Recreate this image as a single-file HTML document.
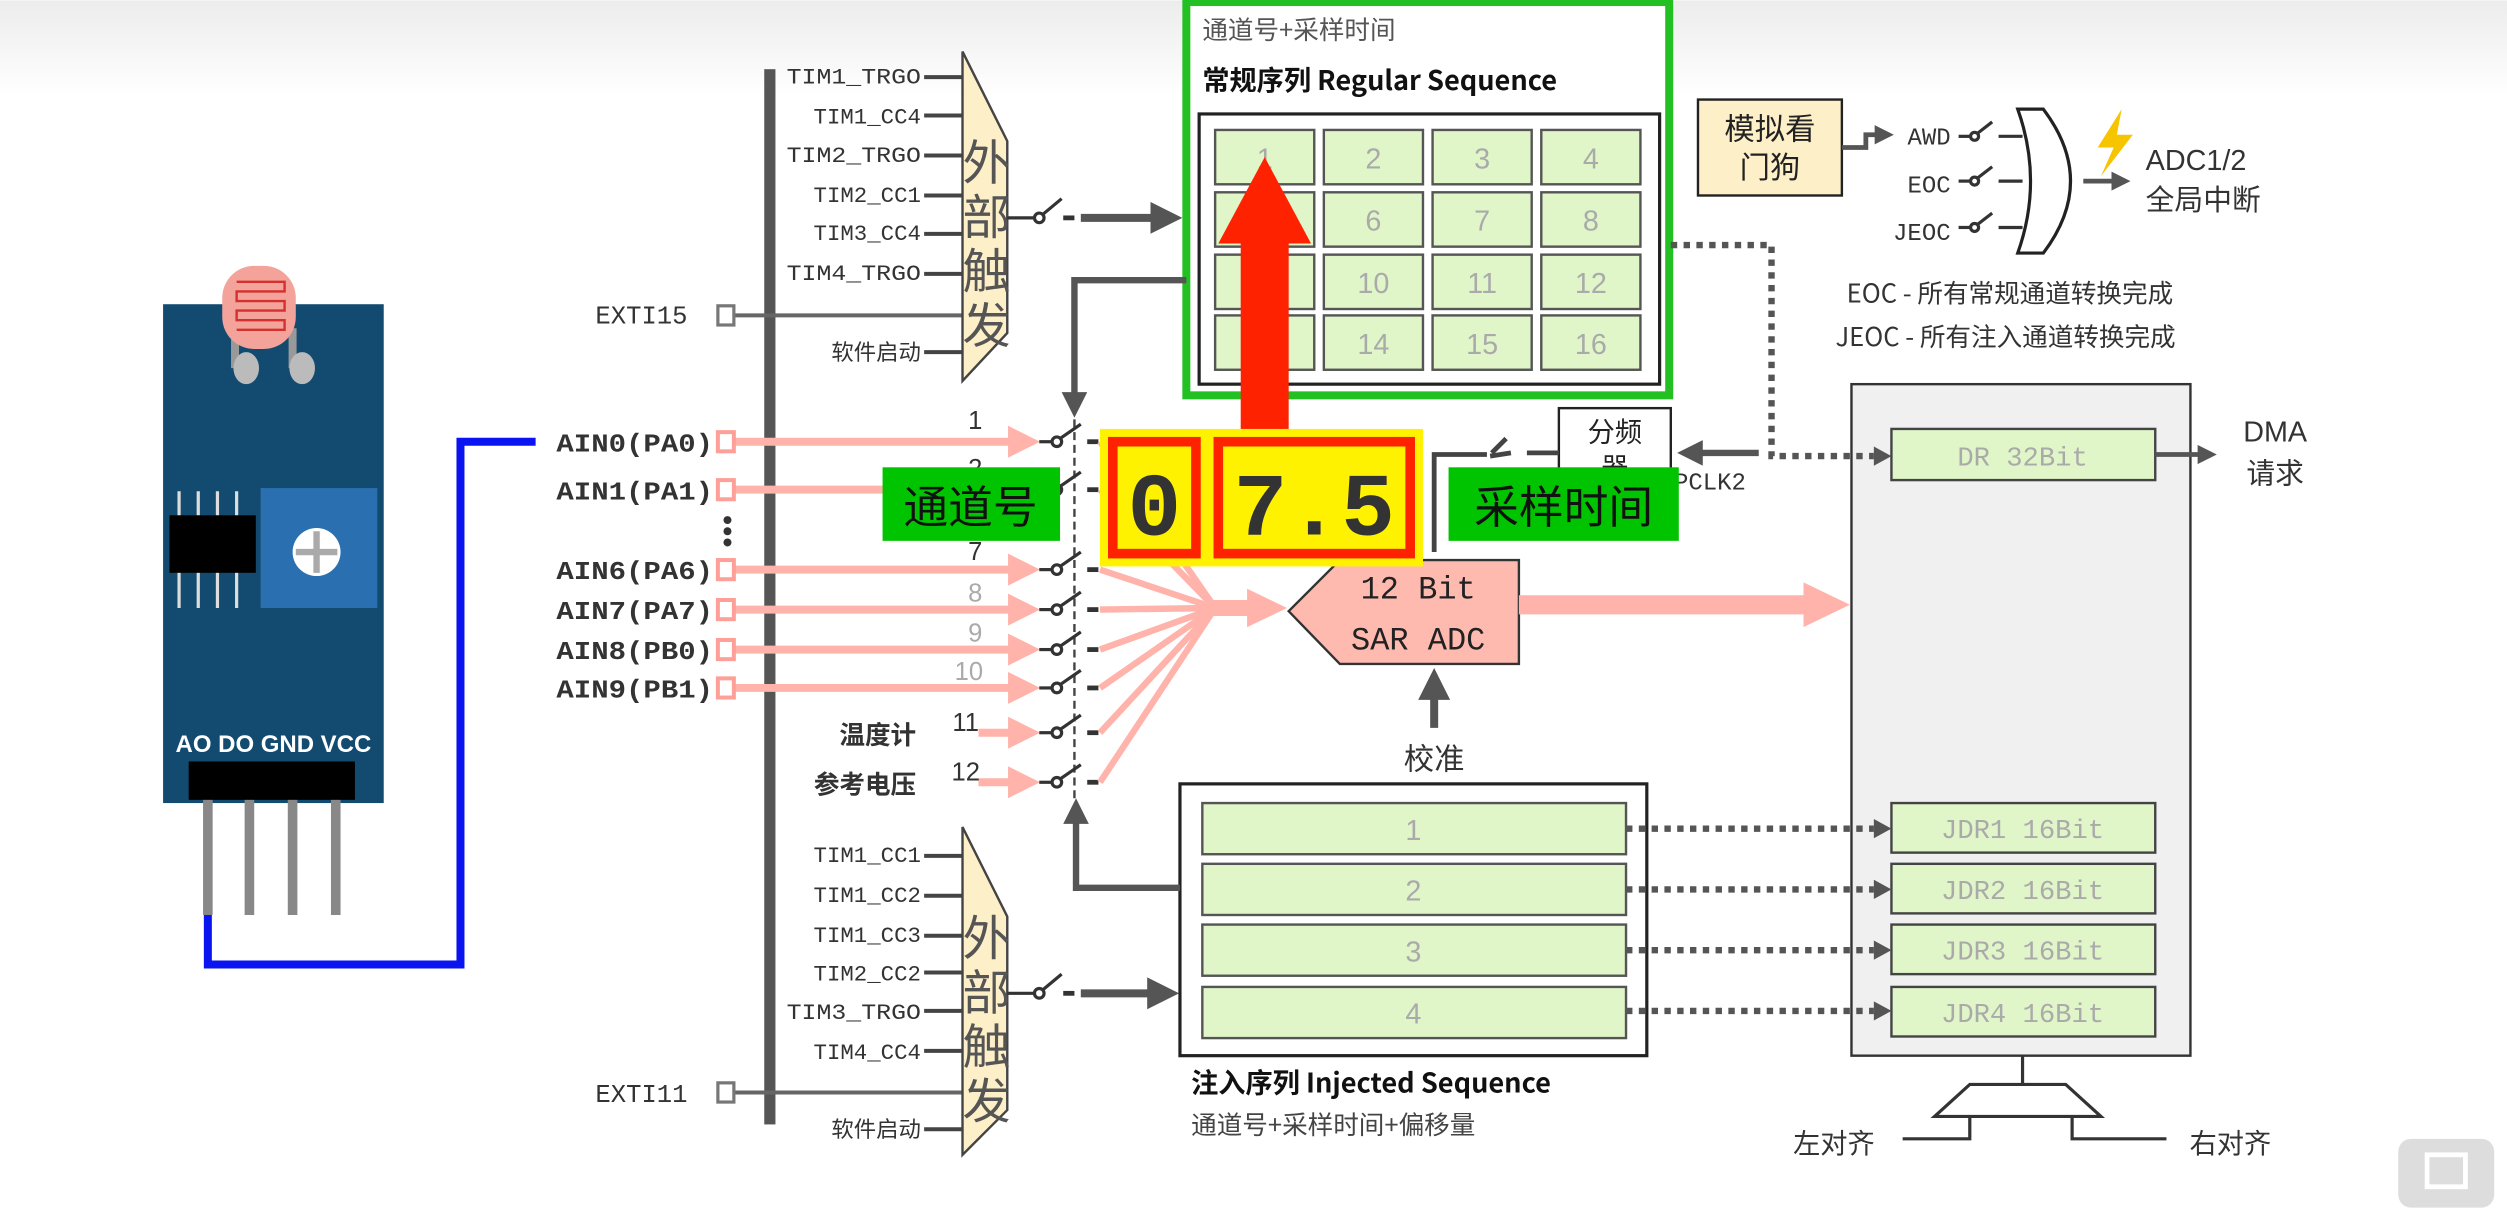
<!DOCTYPE html>
<html><head><meta charset="utf-8">
<style>
html,body{margin:0;padding:0;background:#fff;}
svg{display:block;}
text{font-family:"Liberation Sans","Noto Sans CJK SC",sans-serif;}
.m text, text.m{font-family:"Liberation Mono","DejaVu Sans Mono","Noto Sans CJK SC",monospace;}
.c text, text.c{font-family:"Noto Sans CJK SC","WenQuanYi Zen Hei",sans-serif;}
</style></head><body>
<svg width="2507" height="1208" viewBox="0 0 1568 755" xmlns="http://www.w3.org/2000/svg">
<defs>
<linearGradient id="bg" x1="0" y1="0" x2="0" y2="1"><stop offset="0" stop-color="#ececec"/><stop offset="1" stop-color="#ffffff"/></linearGradient>
<marker id="ag" markerWidth="4" markerHeight="4" refX="2.5" refY="2" orient="auto"><path d="M0,0 L4,2 L0,4z" fill="#555"/></marker>
<marker id="ap" markerWidth="4" markerHeight="4" refX="2.5" refY="2" orient="auto"><path d="M0,0 L4,2 L0,4z" fill="#ffb3aa"/></marker>
<g id="sw" stroke="#333" stroke-width="2" fill="#fff"><line x1="650" y1="0" x2="658" y2="0"/><circle cx="661" cy="0" r="3"/><line x1="663" y1="-2" x2="676" y2="-11"/><line x1="680" y1="0" x2="687" y2="0" stroke-width="3"/></g>
<g id="sw2" stroke="#333" stroke-width="2" fill="#fff"><line x1="1225" y1="0" x2="1232" y2="0"/><circle cx="1235" cy="0" r="2.5"/><line x1="1237" y1="-2" x2="1246" y2="-9"/><line x1="1250" y1="0" x2="1265" y2="0"/></g>
</defs>
<rect width="1568" height="60" fill="url(#bg)"/>

<!-- sensor board -->
<rect x="102" y="190" width="138" height="312" fill="#134b70"/>
<line x1="147" y1="205" x2="147" y2="230" stroke="#999" stroke-width="5"/>
<line x1="183" y1="205" x2="183" y2="230" stroke="#999" stroke-width="5"/>
<ellipse cx="154" cy="230" rx="8" ry="10" fill="#bbb"/><ellipse cx="189" cy="230" rx="8" ry="10" fill="#bbb"/>
<rect x="139" y="166" width="46" height="52" rx="20" fill="#f4a39a"/>
<path d="M148,176 H178 V182 H148 V188 H178 V194 H148 V200 H178 V206 H148" fill="none" stroke="#d43030" stroke-width="1.5"/>
<rect x="163" y="305" width="73" height="75" fill="#2a6fb0"/>
<circle cx="198" cy="345" r="15" fill="#fff"/>
<line x1="198" y1="332" x2="198" y2="358" stroke="#aaa" stroke-width="4"/><line x1="185" y1="345" x2="211" y2="345" stroke="#aaa" stroke-width="4"/>
<g stroke="#ddd" stroke-width="2"><line x1="112" y1="307" x2="112" y2="380"/><line x1="124" y1="307" x2="124" y2="380"/><line x1="136" y1="307" x2="136" y2="380"/><line x1="148" y1="307" x2="148" y2="380"/></g>
<rect x="106" y="322" width="54" height="36" fill="#000"/>
<text x="171" y="470" fill="#fff" font-size="15" font-weight="bold" text-anchor="middle">AO DO GND VCC</text>
<rect x="118" y="476" width="104" height="24" fill="#000"/>
<g stroke="#888" stroke-width="6"><line x1="130" y1="500" x2="130" y2="572"/><line x1="156" y1="500" x2="156" y2="572"/><line x1="183" y1="500" x2="183" y2="572"/><line x1="210" y1="500" x2="210" y2="572"/></g>
<path d="M335,276 H288 V603 H130 V572" fill="none" stroke="#0a14f0" stroke-width="5"/>

<!-- bus -->
<rect x="478" y="43" width="7" height="660" fill="#555"/>

<!-- top triggers -->
<g class="m" font-size="14" fill="#333" text-anchor="end">
<text x="576" y="52" textLength="84" lengthAdjust="spacingAndGlyphs">TIM1_TRGO</text><text x="576" y="77">TIM1_CC4</text><text x="576" y="101" textLength="84" lengthAdjust="spacingAndGlyphs">TIM2_TRGO</text><text x="576" y="126">TIM2_CC1</text><text x="576" y="150">TIM3_CC4</text><text x="576" y="175" textLength="84" lengthAdjust="spacingAndGlyphs">TIM4_TRGO</text>
<text x="430" y="202" font-size="16">EXTI15</text>
</g>
<text x="576" y="225" class="c" font-size="14" fill="#333" text-anchor="end">软件启动</text>
<g stroke="#444" stroke-width="2.5"><line x1="578" y1="48" x2="602" y2="48"/><line x1="578" y1="72" x2="602" y2="72"/><line x1="578" y1="97" x2="602" y2="97"/><line x1="578" y1="122" x2="602" y2="122"/><line x1="578" y1="146" x2="602" y2="146"/><line x1="578" y1="171" x2="602" y2="171"/><line x1="578" y1="220" x2="602" y2="220"/></g>
<line x1="459" y1="197" x2="602" y2="197" stroke="#666" stroke-width="2.5"/>
<rect x="449" y="191" width="10" height="12" fill="#fff" stroke="#777" stroke-width="2"/>
<polygon points="602,32 630,88 630,208 602,238" fill="#fdefc8" stroke="#444" stroke-width="1.5"/>
<g class="c" font-size="30" fill="#555" text-anchor="middle"><text x="617" y="112">外</text><text x="617" y="146">部</text><text x="617" y="180">触</text><text x="617" y="214">发</text></g>
<g stroke="#333" stroke-width="2" fill="#fff"><line x1="630" y1="136" x2="647" y2="136"/><circle cx="650" cy="136" r="3"/><line x1="652" y1="134" x2="664" y2="124"/><line x1="665" y1="136" x2="672" y2="136" stroke-width="3"/></g>
<line x1="676" y1="136" x2="732" y2="136" stroke="#555" stroke-width="5" marker-end="url(#ag)"/>

<!-- regular sequence -->
<rect x="742" y="1" width="302" height="246" fill="#fff" stroke="#22c022" stroke-width="5"/>
<text x="752" y="24" class="c" font-size="16" fill="#555">通道号+采样时间</text>
<text x="752" y="56" class="c" font-size="17" font-weight="bold" fill="#111">常规序列 Regular Sequence</text>
<rect x="750" y="71" width="288" height="169" fill="#fff" stroke="#222" stroke-width="2"/>
<g fill="#e0f5c8" stroke="#555" stroke-width="1.5">
<rect x="760" y="81" width="62" height="34"/><rect x="828" y="81" width="62" height="34"/><rect x="896" y="81" width="62" height="34"/><rect x="964" y="81" width="62" height="34"/>
<rect x="760" y="120" width="62" height="34"/><rect x="828" y="120" width="62" height="34"/><rect x="896" y="120" width="62" height="34"/><rect x="964" y="120" width="62" height="34"/>
<rect x="760" y="159" width="62" height="34"/><rect x="828" y="159" width="62" height="34"/><rect x="896" y="159" width="62" height="34"/><rect x="964" y="159" width="62" height="34"/>
<rect x="760" y="197" width="62" height="34"/><rect x="828" y="197" width="62" height="34"/><rect x="896" y="197" width="62" height="34"/><rect x="964" y="197" width="62" height="34"/>
</g>
<g font-size="18" fill="#aaa" text-anchor="middle">
<text x="791" y="105">1</text><text x="859" y="105">2</text><text x="927" y="105">3</text><text x="995" y="105">4</text>
<text x="791" y="144">5</text><text x="859" y="144">6</text><text x="927" y="144">7</text><text x="995" y="144">8</text>
<text x="791" y="183">9</text><text x="859" y="183">10</text><text x="927" y="183">11</text><text x="995" y="183">12</text>
<text x="791" y="221">13</text><text x="859" y="221">14</text><text x="927" y="221">15</text><text x="995" y="221">16</text>
</g>
<path d="M742,175 H672 V255" fill="none" stroke="#555" stroke-width="4" marker-end="url(#ag)"/>

<!-- analog inputs -->
<g class="m" font-size="16" font-weight="bold" fill="#333" text-anchor="end">
<text x="446" y="282" textLength="98" lengthAdjust="spacingAndGlyphs">AIN0(PA0)</text><text x="446" y="312" textLength="98" lengthAdjust="spacingAndGlyphs">AIN1(PA1)</text><text x="446" y="362" textLength="98" lengthAdjust="spacingAndGlyphs">AIN6(PA6)</text><text x="446" y="387" textLength="98" lengthAdjust="spacingAndGlyphs">AIN7(PA7)</text><text x="446" y="412" textLength="98" lengthAdjust="spacingAndGlyphs">AIN8(PB0)</text><text x="446" y="436" textLength="98" lengthAdjust="spacingAndGlyphs">AIN9(PB1)</text>
</g>
<g fill="#333"><circle cx="455" cy="325" r="2.5"/><circle cx="455" cy="332" r="2.5"/><circle cx="455" cy="339" r="2.5"/></g>
<g class="c" font-size="16" font-weight="bold" fill="#333" text-anchor="end"><text x="573" y="465">温度计</text><text x="573" y="496">参考电压</text></g>
<g stroke="#ffb3aa" stroke-width="5">
<line x1="458" y1="276" x2="643" y2="276" marker-end="url(#ap)"/><line x1="458" y1="306" x2="643" y2="306" marker-end="url(#ap)"/><line x1="458" y1="356" x2="643" y2="356" marker-end="url(#ap)"/><line x1="458" y1="381" x2="643" y2="381" marker-end="url(#ap)"/><line x1="458" y1="406" x2="643" y2="406" marker-end="url(#ap)"/><line x1="458" y1="430" x2="643" y2="430" marker-end="url(#ap)"/><line x1="612" y1="458" x2="643" y2="458" marker-end="url(#ap)"/><line x1="612" y1="489" x2="643" y2="489" marker-end="url(#ap)"/>
</g>
<g fill="#fff" stroke="#ffa098" stroke-width="2.5">
<rect x="449" y="270" width="10" height="12"/><rect x="449" y="300" width="10" height="12"/><rect x="449" y="350" width="10" height="12"/><rect x="449" y="375" width="10" height="12"/><rect x="449" y="400" width="10" height="12"/><rect x="449" y="424" width="10" height="12"/>
</g>
<g font-size="16" text-anchor="middle" fill="#333"><text x="610" y="268">1</text><text x="610" y="298">2</text><text x="610" y="350">7</text><text x="610" y="376" fill="#aaa">8</text><text x="610" y="401" fill="#aaa">9</text><text x="606" y="425" fill="#aaa">10</text><text x="604" y="457">11</text><text x="604" y="488">12</text></g>
<line x1="672" y1="262" x2="672" y2="500" stroke="#444" stroke-width="1.5" stroke-dasharray="5,3"/>
<use href="#sw" y="276"/><use href="#sw" y="306"/><use href="#sw" y="356"/><use href="#sw" y="381"/><use href="#sw" y="406"/><use href="#sw" y="430"/><use href="#sw" y="458"/><use href="#sw" y="489"/>
<g stroke="#ffb3aa" stroke-width="4" fill="none">
<line x1="688" y1="276" x2="760" y2="380"/><line x1="688" y1="306" x2="760" y2="380"/><line x1="688" y1="356" x2="760" y2="380"/><line x1="688" y1="381" x2="760" y2="380"/><line x1="688" y1="406" x2="760" y2="380"/><line x1="688" y1="430" x2="760" y2="380"/><line x1="688" y1="458" x2="760" y2="380"/><line x1="688" y1="489" x2="760" y2="380"/>
</g>
<line x1="755" y1="380" x2="782" y2="380" stroke="#ffb3aa" stroke-width="10"/>
<polygon points="780,368 805,380 780,392" fill="#ffb3aa"/>

<!-- ADC -->
<polygon points="806,382 838,350 950,350 950,415 838,415" fill="#ffbab0" stroke="#333" stroke-width="1.5"/>
<text x="887" y="374" class="m" font-size="20" fill="#222" text-anchor="middle">12 Bit</text>
<text x="887" y="406" class="m" font-size="20" fill="#222" text-anchor="middle">SAR ADC</text>
<line x1="950" y1="378" x2="1130" y2="378" stroke="#ffb3aa" stroke-width="12"/>
<polygon points="1128,364 1157,378 1128,392" fill="#ffb3aa"/>
<line x1="897" y1="455" x2="897" y2="425" stroke="#555" stroke-width="5" marker-end="url(#ag)"/>
<text x="897" y="481" class="c" font-size="19" fill="#333" text-anchor="middle">校准</text>

<!-- prescaler -->
<rect x="975" y="255" width="70" height="46" fill="#fff" stroke="#222" stroke-width="1.5"/>
<text x="1010" y="276" class="c" font-size="17" fill="#222" text-anchor="middle">分频</text>
<text x="1010" y="298" class="c" font-size="17" fill="#222" text-anchor="middle">器</text>
<text x="1047" y="306" class="m" font-size="15" fill="#333">PCLK2</text>
<line x1="1100" y1="283" x2="1055" y2="283" stroke="#555" stroke-width="4" marker-end="url(#ag)"/>
<g stroke="#444" stroke-width="3" fill="none"><line x1="975" y1="283" x2="955" y2="283"/><line x1="945" y1="283" x2="932" y2="285"/><line x1="933" y1="283" x2="942" y2="274"/><path d="M930,284 H897 V345"/></g>

<!-- red arrow -->
<rect x="776" y="140" width="30" height="130" fill="#ff2200"/>
<polygon points="762,152 791,98 820,152" fill="#ff2200"/>

<!-- overlays -->
<rect x="688" y="268" width="202" height="86" fill="#fff200"/>
<rect x="696" y="276" width="52" height="70" fill="#fff200" stroke="#ff2200" stroke-width="6"/>
<rect x="762" y="276" width="120" height="70" fill="#fff200" stroke="#ff2200" stroke-width="6"/>
<text x="722" y="334" class="m" font-size="56" font-weight="bold" fill="#333" text-anchor="middle">0</text>
<text x="822" y="334" class="m" font-size="56" font-weight="bold" fill="#333" text-anchor="middle">7.5</text>
<rect x="552" y="292" width="111" height="46" fill="#00c400"/>
<text x="607" y="327" class="c" font-size="28" fill="#111" text-anchor="middle">通道号</text>
<rect x="906" y="292" width="144" height="46" fill="#00c400"/>
<text x="978" y="327" class="c" font-size="28" fill="#111" text-anchor="middle">采样时间</text>

<!-- bottom triggers -->
<g class="m" font-size="14" fill="#333" text-anchor="end">
<text x="576" y="539">TIM1_CC1</text><text x="576" y="564">TIM1_CC2</text><text x="576" y="589">TIM1_CC3</text><text x="576" y="613">TIM2_CC2</text><text x="576" y="637" textLength="84" lengthAdjust="spacingAndGlyphs">TIM3_TRGO</text><text x="576" y="662">TIM4_CC4</text>
<text x="430" y="689" font-size="16">EXTI11</text>
</g>
<text x="576" y="711" class="c" font-size="14" fill="#333" text-anchor="end">软件启动</text>
<g stroke="#444" stroke-width="2.5"><line x1="578" y1="535" x2="602" y2="535"/><line x1="578" y1="560" x2="602" y2="560"/><line x1="578" y1="585" x2="602" y2="585"/><line x1="578" y1="608" x2="602" y2="608"/><line x1="578" y1="632" x2="602" y2="632"/><line x1="578" y1="657" x2="602" y2="657"/><line x1="578" y1="706" x2="602" y2="706"/></g>
<line x1="459" y1="683" x2="602" y2="683" stroke="#666" stroke-width="2.5"/>
<rect x="449" y="677" width="10" height="12" fill="#fff" stroke="#777" stroke-width="2"/>
<polygon points="602,517 630,573 630,694 602,722" fill="#fdefc8" stroke="#444" stroke-width="1.5"/>
<g class="c" font-size="30" fill="#555" text-anchor="middle"><text x="617" y="597">外</text><text x="617" y="631">部</text><text x="617" y="665">触</text><text x="617" y="699">发</text></g>
<g stroke="#333" stroke-width="2" fill="#fff"><line x1="630" y1="621" x2="647" y2="621"/><circle cx="650" cy="621" r="3"/><line x1="652" y1="619" x2="664" y2="609"/><line x1="665" y1="621" x2="672" y2="621" stroke-width="3"/></g>
<line x1="676" y1="621" x2="730" y2="621" stroke="#555" stroke-width="5" marker-end="url(#ag)"/>

<!-- injected -->
<rect x="738" y="490" width="292" height="170" fill="#fff" stroke="#222" stroke-width="2"/>
<g fill="#e0f5c8" stroke="#555" stroke-width="1.5">
<rect x="752" y="502" width="265" height="32"/><rect x="752" y="540" width="265" height="32"/><rect x="752" y="578" width="265" height="32"/><rect x="752" y="617" width="265" height="32"/>
</g>
<g font-size="18" fill="#aaa" text-anchor="middle"><text x="884" y="525">1</text><text x="884" y="563">2</text><text x="884" y="601">3</text><text x="884" y="640">4</text></g>
<path d="M738,555 H673 V505" fill="none" stroke="#555" stroke-width="4" marker-end="url(#ag)"/>
<text x="745" y="683" class="c" font-size="17" font-weight="bold" fill="#111">注入序列 Injected Sequence</text>
<text x="745" y="709" class="c" font-size="16" fill="#444">通道号+采样时间+偏移量</text>

<!-- registers -->
<rect x="1158" y="240" width="212" height="420" fill="#f0f0f0" stroke="#333" stroke-width="1.5"/>
<g fill="#e0f5c8" stroke="#444" stroke-width="1.5">
<rect x="1183" y="268" width="165" height="32"/><rect x="1183" y="502" width="165" height="31"/><rect x="1183" y="540" width="165" height="31"/><rect x="1183" y="578" width="165" height="31"/><rect x="1183" y="617" width="165" height="31"/>
</g>
<g class="m" font-size="17" fill="#aaa" text-anchor="middle"><text x="1265" y="291">DR 32Bit</text><text x="1265" y="524">JDR1 16Bit</text><text x="1265" y="562">JDR2 16Bit</text><text x="1265" y="600">JDR3 16Bit</text><text x="1265" y="639">JDR4 16Bit</text></g>
<g stroke="#555" stroke-width="4" stroke-dasharray="4,4" fill="none">
<path d="M1045,153 H1108 V285 H1172"/>
<line x1="1017" y1="518" x2="1172" y2="518"/><line x1="1017" y1="556" x2="1172" y2="556"/><line x1="1017" y1="594" x2="1172" y2="594"/><line x1="1017" y1="632" x2="1172" y2="632"/>
</g>
<g fill="#555"><polygon points="1172,279 1183,285 1172,291"/><polygon points="1172,512 1183,518 1172,524"/><polygon points="1172,550 1183,556 1172,562"/><polygon points="1172,588 1183,594 1172,600"/><polygon points="1172,626 1183,632 1172,638"/></g>
<line x1="1348" y1="284" x2="1382" y2="284" stroke="#555" stroke-width="3" marker-end="url(#ag)"/>
<text x="1423" y="276" font-size="18" fill="#333" text-anchor="middle">DMA</text>
<text x="1423" y="302" class="c" font-size="18" fill="#333" text-anchor="middle">请求</text>
<line x1="1265" y1="660" x2="1265" y2="678" stroke="#333" stroke-width="2"/>
<polygon points="1232,678 1292,678 1314,698 1210,698" fill="#fff" stroke="#333" stroke-width="2"/>
<path d="M1232,698 V712 H1190 M1296,698 V712 H1355" fill="none" stroke="#333" stroke-width="2"/>
<text x="1147" y="721" class="c" font-size="17" fill="#333" text-anchor="middle">左对齐</text>
<text x="1395" y="721" class="c" font-size="17" fill="#333" text-anchor="middle">右对齐</text>

<!-- watchdog & interrupts -->
<rect x="1062" y="62" width="90" height="60" fill="#fdefc8" stroke="#222" stroke-width="1.5"/>
<text x="1107" y="87" class="c" font-size="19" fill="#222" text-anchor="middle">模拟看</text>
<text x="1107" y="111" class="c" font-size="19" fill="#222" text-anchor="middle">门狗</text>
<path d="M1152,92 H1167 V84 H1180" fill="none" stroke="#555" stroke-width="3" marker-end="url(#ag)"/>
<g class="m" font-size="15" fill="#333" text-anchor="end"><text x="1220" y="90">AWD</text><text x="1220" y="120">EOC</text><text x="1220" y="150">JEOC</text></g>
<use href="#sw2" y="85"/><use href="#sw2" y="113"/><use href="#sw2" y="142"/>
<path d="M1262,68 H1278 Q1312,113 1278,158 H1262 Q1278,113 1262,68z" fill="#fff" stroke="#222" stroke-width="2"/>
<line x1="1303" y1="113" x2="1328" y2="113" stroke="#555" stroke-width="3" marker-end="url(#ag)"/>
<polygon points="1327,68 1312,92 1322,92 1314,110 1334,84 1324,84" fill="#f7c400"/>
<text x="1342" y="106" font-size="18" fill="#333">ADC1/2</text>
<text x="1342" y="131" class="c" font-size="18" fill="#333">全局中断</text>
<text x="1155" y="189" class="c" font-size="16" fill="#333">EOC - 所有常规通道转换完成</text>
<text x="1148" y="216" class="c" font-size="16" fill="#333">JEOC - 所有注入通道转换完成</text>

<rect x="1500" y="712" width="60" height="43" rx="8" fill="#ddd"/>
<rect x="1518" y="722" width="24" height="20" fill="none" stroke="#fff" stroke-width="3"/>
</svg>
</body></html>
